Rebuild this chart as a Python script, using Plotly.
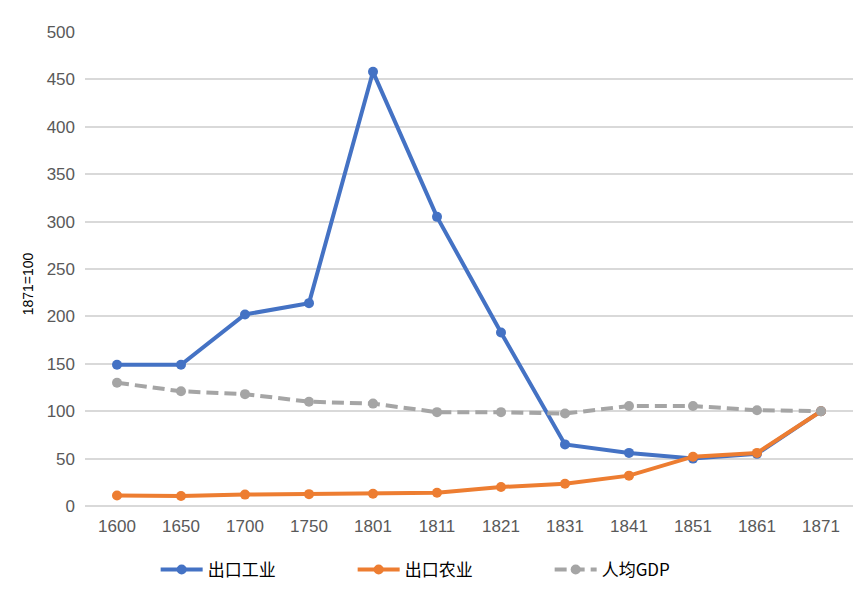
import plotly.graph_objects as go

years = ["1600", "1650", "1700", "1750", "1801", "1811", "1821", "1831", "1841", "1851", "1861", "1871"]
export_industry = [149, 149, 202, 214, 458, 305, 183, 65, 56, 50, 55, 100]
export_agri = [11, 10.5, 12, 12.5, 13, 14, 20, 23.5, 32, 52, 56, 100]
gdp_per_capita = [130, 121, 118, 110, 108, 99, 99, 97.5, 105.5, 105.5, 101, 100]

fig = go.Figure()
fig.add_trace(go.Scatter(x=years, y=export_industry, name="出口工业", mode="lines+markers",
                         line=dict(color="#4472C4", width=4), marker=dict(size=10, color="#4472C4")))
fig.add_trace(go.Scatter(x=years, y=export_agri, name="出口农业", mode="lines+markers",
                         line=dict(color="#ED7D31", width=4), marker=dict(size=10, color="#ED7D31")))
fig.add_trace(go.Scatter(x=years, y=gdp_per_capita, name="人均GDP", mode="lines+markers",
                         line=dict(color="#A5A5A5", width=4, dash="12px,6px"), marker=dict(size=10, color="#A5A5A5")))

fig.update_layout(
    width=865, height=600,
    margin=dict(l=85, r=12, t=32, b=94),
    paper_bgcolor="white", plot_bgcolor="white",
    font=dict(family="Liberation Sans, Arial, sans-serif", color="#595959"),
    legend=dict(orientation="h", x=0.092, xanchor="left", y=-0.135, yanchor="middle",
                font=dict(family="Noto Sans CJK SC", size=17, color="#000000"),
                entrywidth=140, entrywidthmode="pixels", itemwidth=42),
    showlegend=True,
    annotations=[dict(text="1871=100", textangle=-90, xref="paper", yref="paper",
                      x=-0.074, y=0.468, xanchor="center", yanchor="middle", showarrow=False,
                      font=dict(family="Liberation Sans, Arial, sans-serif", size=14, color="#000000"))],
)
fig.update_xaxes(type="category", range=[-0.5, 11.5], showgrid=False, showline=False, zeroline=False,
                 tickfont=dict(size=17, color="#595959"), ticks="", ticklabelstandoff=8)
fig.update_yaxes(range=[0, 500], dtick=50, showgrid=True, gridcolor="#d9d9d9", gridwidth=1.5,
                 zeroline=True, zerolinecolor="#d9d9d9", zerolinewidth=2, showline=False,
                 tickfont=dict(size=17, color="#595959"), ticks="", ticklabelstandoff=9)

fig.write_html("out.html")
